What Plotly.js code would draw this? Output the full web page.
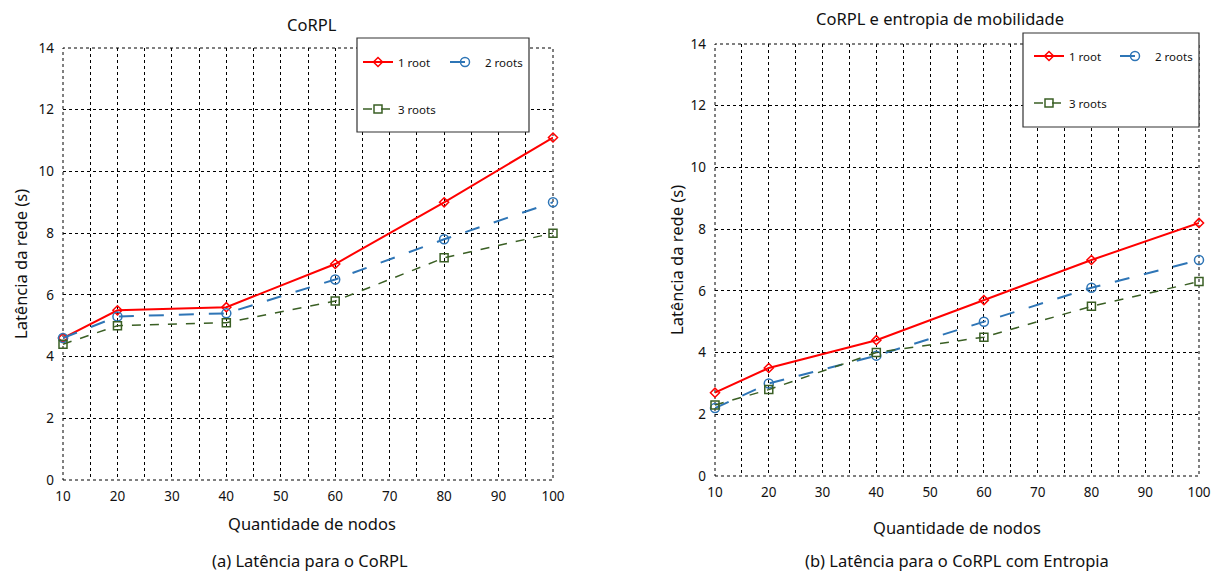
<!DOCTYPE html>
<html>
<head>
<meta charset="utf-8">
<script src="https://cdn.plot.ly/plotly-3.0.1.min.js"></script>
<style>html,body{margin:0;padding:0;background:#fff;}#chart{width:1216px;height:573px;}</style>
</head>
<body>
<div id="chart"></div>
<script>
// Data
const nodes = [10, 20, 40, 60, 80, 100];
const seriesNames = ["1 root", "2 roots", "3 roots"];
// (a) CoRPL
const corpl_1root = [4.6, 5.5, 5.6, 7.0, 9.0, 11.1];
const corpl_2roots = [4.6, 5.3, 5.4, 6.5, 7.8, 9.0];
const corpl_3roots = [4.4, 5.0, 5.1, 5.8, 7.2, 8.0];
// (b) CoRPL com entropia
const entropia_1root = [2.7, 3.5, 4.4, 5.7, 7.0, 8.2];
const entropia_2roots = [2.2, 3.0, 3.9, 5.0, 6.1, 7.0];
const entropia_3roots = [2.3, 2.8, 4.0, 4.5, 5.5, 6.3];
const xTickVals = [10, 20, 30, 40, 50, 60, 70, 80, 90, 100];
const yTickVals = [0, 2, 4, 6, 8, 10, 12, 14];

const W = 1216, H = 573;
const px = v => v / W;
const py = v => (H - v) / H;
const FONT = "Noto Sans, Open Sans, sans-serif";

const styles = [
  {color: "#FF0000", dash: "solid", width: 2, symbol: "diamond-open", size: 7},
  {color: "#2E75B6", dash: "longdash", width: 2, symbol: "circle-open", size: 9},
  {color: "#3A5F24", dash: "dash", width: 1.5, symbol: "square-open", size: 8}
];

function mk(y, i, xa, ya, legend) {
  const s = styles[i];
  return {
    x: nodes, y: y, name: seriesNames[i], type: "scatter", mode: "lines+markers",
    xaxis: xa, yaxis: ya, legend: legend, showlegend: true, cliponaxis: false,
    line: {color: s.color, dash: s.dash, width: s.width},
    marker: {symbol: s.symbol, size: s.size, color: s.color, line: {width: 1.5, color: s.color}}
  };
}

const traces = [
  mk(corpl_1root, 0, "x", "y", "legend"),
  mk(corpl_2roots, 1, "x", "y", "legend2"),
  mk(corpl_3roots, 2, "x", "y", "legend3"),
  mk(entropia_1root, 0, "x2", "y2", "legend4"),
  mk(entropia_2roots, 1, "x2", "y2", "legend5"),
  mk(entropia_3roots, 2, "x2", "y2", "legend6")
];

function xaxis(domain, anchor) {
  return {
    domain: domain, anchor: anchor, range: [10, 100], tickvals: xTickVals,
    showgrid: true, gridcolor: "#000", griddash: "dot", gridwidth: 1,
    minor: {dtick: 5, tick0: 0, showgrid: true, gridcolor: "#000", griddash: "dot", gridwidth: 1},
    zeroline: false, showline: false, ticks: "", ticklabelstandoff: 6,
    tickfont: {family: FONT, size: 13.5, color: "#111"}
  };
}
function yaxis(domain, anchor) {
  return {
    domain: domain, anchor: anchor, range: [0, 14], tickvals: yTickVals,
    showgrid: true, gridcolor: "#000", griddash: "dot", gridwidth: 1,
    zeroline: false, showline: false, ticks: "", ticklabelstandoff: 8,
    tickfont: {family: FONT, size: 13.5, color: "#111"}
  };
}

function leg(x, y) {
  return {x: x, y: y, xanchor: "left", yanchor: "middle", orientation: "h",
    bgcolor: "rgba(0,0,0,0)", borderwidth: 0,
    font: {family: FONT, size: 11.5, color: "#111"}, itemclick: false};
}

const ann = (text, x, y, size, rot) => ({
  text: text, x: px(x), y: py(y), xref: "paper", yref: "paper", showarrow: false,
  xanchor: "center", yanchor: "middle", textangle: rot || 0,
  font: {family: FONT, size: size, color: "#111"}
});

const frame = (xr, yr) => ({type: "rect", xref: xr + " domain", yref: yr + " domain",
  x0: 0, x1: 1, y0: 0, y1: 1, line: {color: "#000", width: 1, dash: "dot"}, layer: "below"});

const layout = {
  width: W, height: H, margin: {l: 0, r: 0, t: 0, b: 0},
  paper_bgcolor: "#fff", plot_bgcolor: "#fff", showlegend: true,
  xaxis: xaxis([px(63), px(553)], "y"),
  yaxis: yaxis([py(480), py(48)], "x"),
  xaxis2: xaxis([px(715), px(1199)], "y2"),
  yaxis2: yaxis([py(476), py(44)], "x2"),
  legend: leg(px(358), py(62)),
  legend2: leg(px(445), py(62)),
  legend3: leg(px(358), py(109)),
  legend4: leg(px(1029), py(56)),
  legend5: leg(px(1115), py(56)),
  legend6: leg(px(1029), py(103)),
  shapes: [
    frame("x", "y"), frame("x2", "y2"),
    {type: "rect", xref: "paper", yref: "paper", x0: px(357), x1: px(529), y0: py(132), y1: py(38),
     fillcolor: "#fff", line: {color: "#333", width: 1.2}, layer: "above"},
    {type: "rect", xref: "paper", yref: "paper", x0: px(1023), x1: px(1199), y0: py(127), y1: py(33),
     fillcolor: "#fff", line: {color: "#333", width: 1.2}, layer: "above"}
  ],
  annotations: [
    ann("CoRPL", 312, 24, 16.5),
    ann("CoRPL e entropia de mobilidade", 940, 18, 16.5),
    ann("Latência da rede (s)", 20, 264, 16.5, -90),
    ann("Latência da rede (s)", 676, 260, 16.5, -90),
    ann("Quantidade de nodos", 312, 523, 16.5),
    ann("Quantidade de nodos", 957, 527, 16.5),
    ann("(a) Latência para o CoRPL", 310, 560, 16.5),
    ann("(b) Latência para o CoRPL com Entropia", 957, 560, 16.5)
  ]
};

Plotly.newPlot("chart", traces, layout, {staticPlot: true, displayModeBar: false});
</script>
</body>
</html>
